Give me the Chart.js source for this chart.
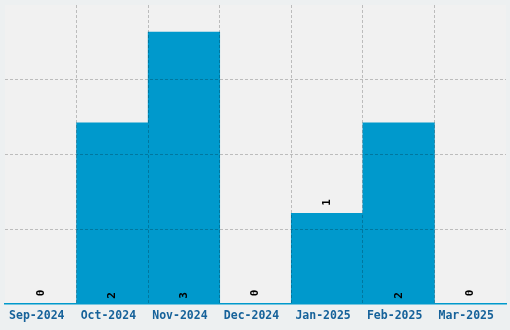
<!DOCTYPE html>
<html><head><meta charset="utf-8">
<script src="https://cdn.jsdelivr.net/npm/chart.js@4"></script>
<style>html,body{margin:0;padding:0;background:#edf0f1;}#wrap{width:510px;height:330px;}</style>
</head><body><div id="wrap"><canvas id="c" width="510" height="330"></canvas></div>
<script>
const categories = ["Sep-2024","Oct-2024","Nov-2024","Dec-2024","Jan-2025","Feb-2025","Mar-2025"];
const counts = [0, 2, 3, 0, 1, 2, 0];
const yMax = 3.3;

const plotBg = {
  id: 'plotBg',
  beforeDraw(chart) {
    const {ctx, chartArea: a} = chart;
    ctx.save(); ctx.fillStyle = '#f1f1f1';
    ctx.fillRect(a.left, a.top, a.right - a.left, a.bottom - a.top);
    ctx.restore();
  }
};
const valueLabels = {
  id: 'valueLabels',
  afterDraw(chart) {
    const {ctx} = chart;
    const meta = chart.getDatasetMeta(0);
    ctx.save();
    ctx.font = 'bold 11px "DejaVu Sans Mono", monospace';
    ctx.fillStyle = '#000';
    ctx.textAlign = 'center'; ctx.textBaseline = 'middle';
    meta.data.forEach((bar, i) => {
      const v = counts[i];
      let y;
      if (v === 0) y = bar.base - 11;
      else if (v === 1) y = bar.y - 11;
      else y = bar.base - 8;
      ctx.save();
      ctx.translate(bar.x, y);
      ctx.rotate(-Math.PI / 2);
      ctx.fillText(String(v), 0, 0);
      ctx.restore();
    });
    ctx.restore();
  }
};
const gridCol = 'rgba(0,0,0,0.22)';
const hidden = 'rgba(0,0,0,0)';

new Chart(document.getElementById('c'), {
  type: 'bar',
  data: { labels: categories, datasets: [{ data: counts, backgroundColor: '#0099cc', borderWidth: 0,
    categoryPercentage: 1, barPercentage: 1 }] },
  options: {
    responsive: false, animation: false,
    layout: { padding: { left: 5, right: 4, top: 5, bottom: 0 } },
    plugins: { legend: { display: false }, tooltip: { enabled: false } },
    scales: {
      x: {
        offset: true,
        grid: { z: 1, offset: true, drawTicks: false,
          color: (c) => (c.index == null || c.index === 0 || c.index >= categories.length) ? hidden : gridCol },
        border: { z: 1, display: true, color: '#0099cc', width: 1.5, dash: [3, 2] },
        ticks: { color: '#16629a', padding: 5, labelOffset: -4,
          font: { family: '"DejaVu Sans Mono", monospace', size: 11.5, weight: 'bold' }, maxRotation: 0 },
        afterFit: (s) => { s.height = 26; }
      },
      y: {
        min: 0, max: yMax,
        ticks: { display: false, count: 5 },
        grid: { z: 1, drawTicks: false,
          color: (c) => (c.index == null || c.index === 0 || c.index >= 4) ? hidden : gridCol },
        border: { display: false, dash: [3, 2] },
        afterFit: (s) => { s.width = 0; }
      }
    }
  },
  plugins: [plotBg, valueLabels]
});
</script></body></html>
